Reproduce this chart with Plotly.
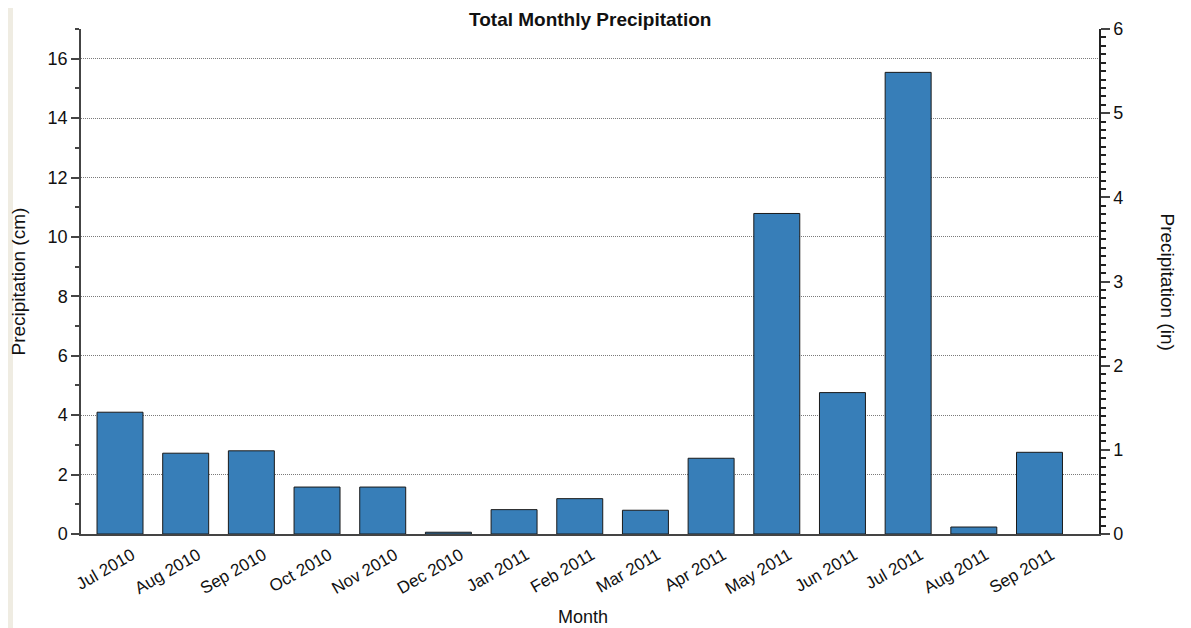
import plotly.graph_objects as go

months = ["Jul 2010", "Aug 2010", "Sep 2010", "Oct 2010", "Nov 2010", "Dec 2010",
          "Jan 2011", "Feb 2011", "Mar 2011", "Apr 2011", "May 2011", "Jun 2011",
          "Jul 2011", "Aug 2011", "Sep 2011"]
precip_cm = [4.10, 2.72, 2.80, 1.58, 1.58, 0.06, 0.82, 1.19, 0.80, 2.55,
             10.79, 4.76, 15.54, 0.235, 2.75]

left_range = [0, 17]
right_range = [0, 6]

FONT = "Liberation Sans, Arial, sans-serif"
TXT = "#111111"
AX = "#444444"

fig = go.Figure()
fig.add_trace(go.Bar(
    x=months, y=precip_cm,
    marker=dict(color="#377eb8", line=dict(color="#1a1a1a", width=1)),
    width=0.7, showlegend=False,
))
# invisible trace so the right axis is drawn
fig.add_trace(go.Scatter(x=[months[0]], y=[None], yaxis="y2", showlegend=False,
                         hoverinfo="skip", mode="markers"))

fig.update_layout(
    width=1183, height=620,
    margin=dict(l=73, r=92, t=21, b=94),
    plot_bgcolor="white", paper_bgcolor="white",
    font=dict(family=FONT, size=18, color=TXT),
    xaxis=dict(
        type="category", range=[-0.594, 14.906],
        showline=True, linecolor=AX, linewidth=1.5,
        ticks="", tickangle=-30, showgrid=False,
        tickfont=dict(size=17), ticklabelshift=12, ticklabelstandoff=3,
    ),
    yaxis=dict(
        range=left_range, dtick=2, tick0=0,
        showline=True, linecolor=AX, linewidth=1.5,
        ticks="outside", ticklen=8, tickcolor=AX, tickwidth=1.5,
        minor=dict(dtick=1, ticks="outside", ticklen=4, tickcolor=AX, showgrid=False),
        showgrid=True, gridcolor="#7a7a7a", griddash="1px,1px", gridwidth=1,
        zeroline=False, tickfont=dict(size=18),
    ),
    yaxis2=dict(
        range=right_range, dtick=1, tick0=0, overlaying="y", side="right",
        showline=True, linecolor="#222222", linewidth=1.5,
        ticks="outside", ticklen=9, tickcolor=AX, tickwidth=1.5,
        minor=dict(dtick=0.1, ticks="outside", ticklen=5, tickcolor="#222222"),
        showgrid=False, zeroline=False, tickfont=dict(size=18),
    ),
    shapes=[dict(type="rect", xref="paper", yref="paper",
                 x0=-73/1018, x1=-68/1018, y0=-94/505, y1=1+21/505,
                 fillcolor="#efece2", line=dict(width=0), layer="below")],
    annotations=[
        dict(text="<b>Total Monthly Precipitation</b>", xref="paper", yref="paper",
             x=0.5, y=1+21/505, xanchor="center", yanchor="top", showarrow=False,
             borderpad=0, font=dict(size=19, color=TXT)),
        dict(text="Precipitation (cm)", xref="paper", yref="paper",
             x=-63/1018, y=0.5, textangle=-90, xanchor="center", yanchor="middle",
             showarrow=False, font=dict(size=19, color=TXT)),
        dict(text="Precipitation (in)", xref="paper", yref="paper",
             x=1+68/1018, y=0.5, textangle=90, xanchor="center", yanchor="middle",
             showarrow=False, font=dict(size=19, color=TXT)),
        dict(text="Month", xref="paper", yref="paper",
             x=(583-81)/1018, y=-(617-534)/505, xanchor="center", yanchor="middle",
             showarrow=False, font=dict(size=18, color=TXT)),
    ],
)

fig.write_html("out.html")
